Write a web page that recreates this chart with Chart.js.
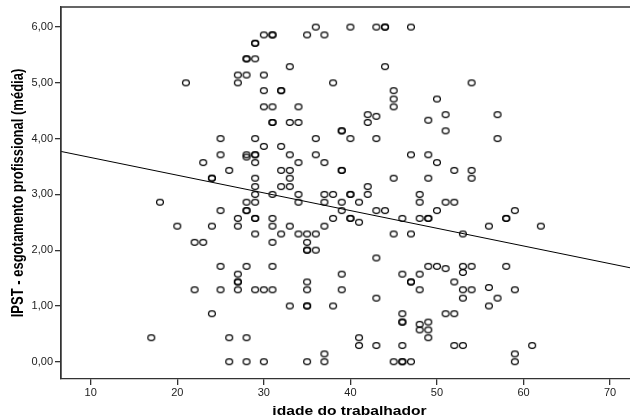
<!DOCTYPE html>
<html>
<head>
<meta charset="utf-8">
<script src="https://cdn.jsdelivr.net/npm/chart.js@4/dist/chart.umd.min.js"></script>
<style>
  html, body { margin: 0; padding: 0; background: #fff; overflow: hidden; }
  #wrap { width: 630px; height: 420px; }
  canvas { display: block; }
</style>
</head>
<body>
<div id="wrap"><canvas id="c" width="630" height="420"></canvas></div>
<script>
// ---- data ----
const ageGroups = [17,18,20,21,22,23,24,25,26,27,28,29,30,31,32,33,34,35,36,37,38,39,40,41,42,43,44,45,46,47,48,49,50,51,52,53,54,56,57,58,59,61,62];
const scoresByAge = [
  [0.43],
  [2.86],
  [2.43],
  [5.00],
  [2.14, 1.29],
  [3.57, 2.14],
  [3.29, 3.29, 2.43, 0.86],
  [4.00, 3.71, 2.71, 1.71, 1.29],
  [3.43, 0.43, 0.00],
  [5.14, 5.00, 2.57, 2.43, 1.57, 1.43, 1.43, 1.29],
  [5.43, 5.43, 5.14, 3.71, 3.67, 2.86, 2.71, 2.71, 1.71, 0.43, 0.00],
  [5.71, 5.71, 5.43, 4.00, 3.71, 3.71, 3.57, 3.29, 3.14, 3.00, 2.86, 2.57, 2.57, 2.29, 1.29],
  [5.86, 5.14, 4.86, 4.57, 3.86, 1.29, 0.00],
  [5.86, 5.86, 4.57, 4.29, 4.29, 3.00, 2.57, 2.43, 2.14, 1.71, 1.29],
  [4.86, 4.86, 3.86, 3.43, 3.14, 2.29],
  [5.29, 4.29, 3.71, 3.43, 3.29, 3.14, 2.43, 1.00],
  [4.57, 4.29, 3.57, 3.00, 2.86, 2.29],
  [5.86, 2.29, 2.14, 2.00, 2.00, 1.43, 1.29, 1.00, 1.00, 0.00],
  [6.00, 4.00, 3.71, 2.29, 2.00],
  [5.86, 3.57, 3.00, 2.86, 2.43, 0.14, 0.00],
  [5.00, 3.00, 2.57, 1.00],
  [4.14, 4.14, 3.43, 3.43, 2.86, 2.71, 1.57, 1.29],
  [6.00, 4.00, 3.00, 3.00, 2.57, 2.57],
  [2.86, 2.50, 0.43, 0.29],
  [4.43, 4.29, 3.14, 3.00],
  [6.00, 4.40, 4.00, 2.71, 1.86, 1.14, 0.29],
  [6.00, 6.00, 5.29, 2.71],
  [4.86, 4.71, 4.57, 3.29, 2.29, 0.00],
  [2.57, 1.57, 0.86, 0.71, 0.71, 0.29, 0.00, 0.00],
  [6.00, 3.71, 2.29, 1.43, 1.43, 0.00],
  [3.00, 2.86, 2.57, 1.57, 1.29, 0.67, 0.57],
  [4.33, 3.71, 3.29, 2.57, 2.57, 1.71, 0.71, 0.57, 0.43],
  [4.71, 3.57, 2.71, 1.71],
  [4.43, 4.14, 2.86, 1.67, 0.86],
  [3.43, 2.86, 1.43, 0.86, 0.29],
  [2.29, 1.71, 1.60, 1.29, 1.14, 0.29],
  [5.00, 3.43, 3.29, 1.71, 1.29],
  [2.43, 1.33, 1.00],
  [4.43, 4.00, 1.14],
  [2.57, 2.57, 1.71],
  [2.71, 1.29, 0.14, 0.00],
  [0.29],
  [2.43]
];
// fit line end points
const fitAges = [6.57, 72.3];
const fitScores = [3.77, 1.685];

const xTicks = [10, 20, 30, 40, 50, 60, 70];
const yTicks = [0, 1, 2, 3, 4, 5, 6];
const yTickLabels = ['0,00', '1,00', '2,00', '3,00', '4,00', '5,00', '6,00'];

const xTitle = 'idade do trabalhador';
const yTitle = 'IPST - esgotamento profissional (média)';

// ---- build ----
const points = [];
ageGroups.forEach((a, i) => scoresByAge[i].forEach(v => points.push({x: a, y: v})));
const fitLine = fitAges.map((a, i) => ({x: a, y: fitScores[i]}));

// elliptical hollow marker like the original
const mk = document.createElement('canvas');
mk.width = 10; mk.height = 9;
(function () {
  const g = mk.getContext('2d');
  g.strokeStyle = '#000';
  g.lineWidth = 1.25;
  g.beginPath();
  g.ellipse(5, 4.5, 3.4, 2.8, 0, 0, Math.PI * 2);
  g.stroke();
})();

// original figure is stretched horizontally; mimic that for the axis titles
const TITLE_STRETCH = 1.2;
const stretchTitles = {
  id: 'stretchTitles',
  beforeDraw(chart) {
    const sx = chart.scales.x, sy = chart.scales.y;
    if (!sx._stretched) {
      const ox = sx.drawTitle;
      sx.drawTitle = function () {
        const c = this.ctx, cx = (this.left + this.right) / 2;
        c.save();
        c.translate(cx + 4, 0); c.scale(TITLE_STRETCH, 1); c.translate(-cx, 0);
        ox.call(this);
        c.restore();
      };
      sx._stretched = true;
    }
    if (!sy._stretched) {
      const oy = sy.drawTitle;
      sy.drawTitle = function () {
        const c = this.ctx, cx = 19;
        c.save();
        c.translate(cx, 0); c.scale(TITLE_STRETCH, 1); c.translate(-cx, 0);
        oy.call(this);
        c.restore();
      };
      sy._stretched = true;
    }
  }
};

const frame = {
  id: 'frame',
  afterDraw(chart) {
    const {ctx, chartArea: a} = chart;
    ctx.save();
    ctx.strokeStyle = '#333';
    ctx.lineWidth = 1.3;
    ctx.beginPath();
    ctx.moveTo(a.left, a.bottom);
    ctx.lineTo(a.left, a.top);
    ctx.lineTo(a.right, a.top);
    ctx.stroke();
    ctx.restore();
  }
};

const tickFont = {family: 'Liberation Sans, Arial, sans-serif', size: 11};
const titleFont = {family: 'Liberation Sans, Arial, sans-serif', size: 13, weight: 'bold'};

new Chart(document.getElementById('c'), {
  type: 'scatter',
  data: {
    datasets: [
      {
        data: points,
        pointStyle: mk,
        pointRadius: 0.5,
        pointBorderWidth: 0,
        borderWidth: 0,
        borderColor: '#000',
        backgroundColor: 'rgba(0,0,0,0)',
        order: 2
      },
      {
        type: 'line',
        data: fitLine,
        borderColor: '#000',
        borderWidth: 1,
        pointRadius: 0,
        pointBorderWidth: 0,
        fill: false,
        order: 1
      }
    ]
  },
  options: {
    responsive: false,
    animation: false,
    devicePixelRatio: 1,
    layout: {autoPadding: false, padding: {top: 7, right: 0, left: 0, bottom: 0}},
    plugins: {legend: {display: false}, tooltip: {enabled: false}},
    scales: {
      x: {
        type: 'linear',
        min: 6.57, max: 72.3,
        afterBuildTicks: s => { s.ticks = xTicks.map(v => ({value: v})); },
        afterFit: s => { s.height = 41; s.paddingLeft = 0; s.paddingRight = 0; },
        grid: {drawOnChartArea: false, drawTicks: true, tickLength: 6, color: '#333', lineWidth: 1.3},
        border: {display: true, color: '#333', width: 1.3},
        ticks: {color: '#222', font: tickFont, padding: 1, maxRotation: 0, autoSkip: false,
                callback: v => String(v)},
        title: {display: true, text: xTitle, color: '#000', font: titleFont, padding: {top: 0, bottom: 0.5}}
      },
      y: {
        type: 'linear',
        min: -0.31, max: 6.36,
        afterBuildTicks: s => { s.ticks = yTicks.map(v => ({value: v})); },
        afterFit: s => { s.width = 61; s.paddingTop = 0; s.paddingBottom = 0; },
        grid: {drawOnChartArea: false, drawTicks: true, tickLength: 6, color: '#333', lineWidth: 1.3},
        border: {display: true, color: '#333', width: 1.3},
        ticks: {color: '#222', font: tickFont, padding: 2, autoSkip: false,
                callback: v => { const i = yTicks.indexOf(v); return i >= 0 ? yTickLabels[i] : ''; }},
        title: {display: true, text: yTitle, color: '#000', font: titleFont, padding: {top: 11, bottom: 0}}
      }
    }
  },
  plugins: [stretchTitles, frame]
});
</script>
</body>
</html>
